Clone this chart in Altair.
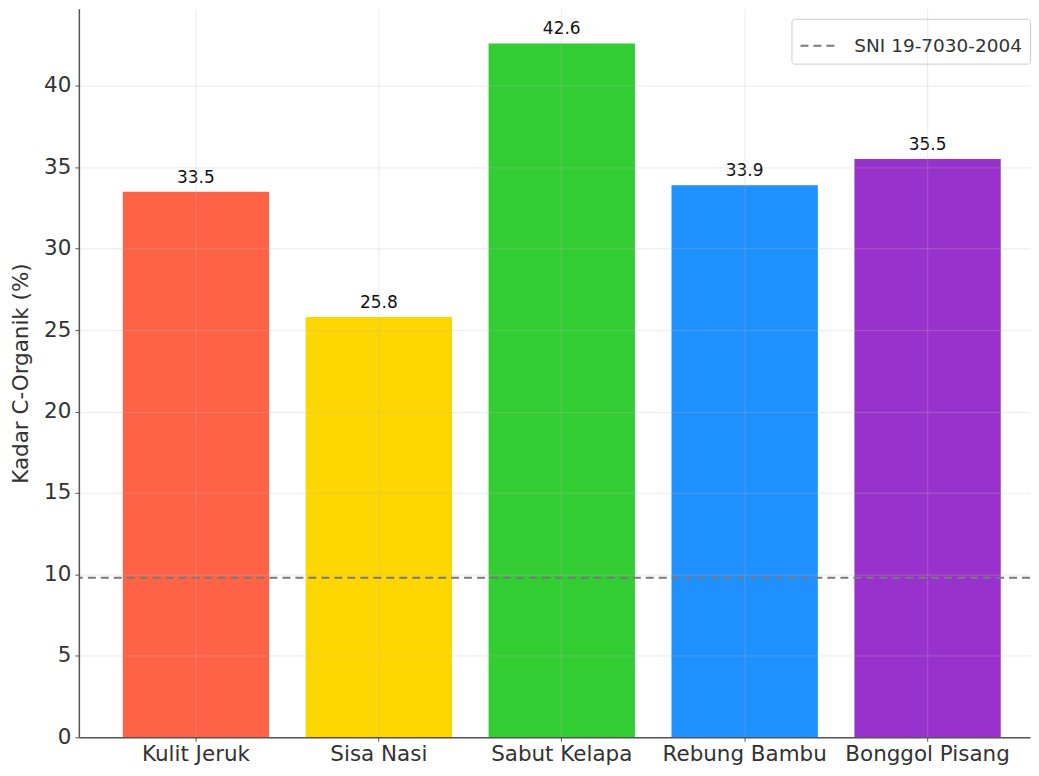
import altair as alt
import pandas as pd

categories = ["Kulit Jeruk", "Sisa Nasi", "Sabut Kelapa", "Rebung Bambu", "Bonggol Pisang"]
values = [33.5, 25.8, 42.6, 33.9, 35.5]
colors = ["#FF6347", "#FFD700", "#32CD32", "#1E90FF", "#9932CC"]
sni_value = 9.8
sni_label = "SNI 19-7030-2004"
y_ticks = [0, 5, 10, 15, 20, 25, 30, 35, 40]

df = pd.DataFrame({"kategori": categories, "nilai": values})
df["label"] = df["nilai"].map(lambda v: f"{v:.1f}")
ref = pd.DataFrame({"y": [sni_value], "nama": [sni_label]})

FONT = "DejaVu Sans"
W, H = 953, 730

x_enc = alt.X(
    "kategori:N",
    sort=categories,
    title=None,
    scale=alt.Scale(paddingInner=0.2, paddingOuter=0.2, align=0.6),
    axis=alt.Axis(labelAngle=0, labelFontSize=21.5, labelColor="#333333",
                  labelFont=FONT, domainColor="#555555", tickColor="#555555",
                  tickSize=4, labelPadding=2, grid=True, gridColor="#b8b8b8",
                  gridOpacity=0.3, zindex=1, domainWidth=1.5),
)
y_scale = alt.Scale(domain=[0, 44.73], nice=False, zero=True)
y_enc = alt.Y(
    "nilai:Q",
    scale=y_scale,
    title="Kadar C-Organik (%)",
    axis=alt.Axis(values=y_ticks, labelFontSize=21.5, labelColor="#333333",
                  labelFont=FONT, titleFont=FONT, titleFontSize=21.5,
                  titleFontWeight="normal", titleColor="#333333",
                  domainColor="#555555", tickColor="#555555", tickSize=4,
                  labelPadding=4, titlePadding=11, grid=True,
                  gridColor="#b8b8b8", gridOpacity=0.3, zindex=1,
                  domainWidth=1.5),
)

bars = alt.Chart(df).mark_bar().encode(
    x=x_enc,
    y=y_enc,
    color=alt.Color("kategori:N", sort=categories,
                    scale=alt.Scale(domain=categories, range=colors), legend=None),
)

text = alt.Chart(df).mark_text(dy=-14, fontSize=17, font=FONT, color="#111111").encode(
    x=alt.X("kategori:N", sort=categories),
    y=alt.Y("nilai:Q", scale=y_scale),
    text="label:N",
)

rule = alt.Chart(ref).mark_rule(color="#7a7a7a", strokeWidth=2).encode(
    y=alt.Y("y:Q", scale=y_scale),
    strokeDash=alt.StrokeDash(
        "nama:N",
        scale=alt.Scale(domain=[sni_label], range=[[8, 5]]),
        legend=alt.Legend(
            title=None, orient="none", legendX=714, legendY=10,
            labelFontSize=18.5, labelFont=FONT, labelColor="#333333",
            labelLimit=400,
            symbolType="stroke", symbolSize=1296, symbolStrokeWidth=2,
            symbolStrokeColor="#7a7a7a", strokeColor="#cccccc",
            fillColor="white", padding=8, cornerRadius=3, labelOffset=17,
        ),
    ),
)

chart = alt.layer(bars, rule, text).properties(
    width=W, height=H,
    padding={"left": 2, "top": 0, "right": 0, "bottom": 0},
).configure(font=FONT).configure_view(strokeWidth=0)

chart.save("out.html", embed_options={"renderer": "svg", "actions": False})
